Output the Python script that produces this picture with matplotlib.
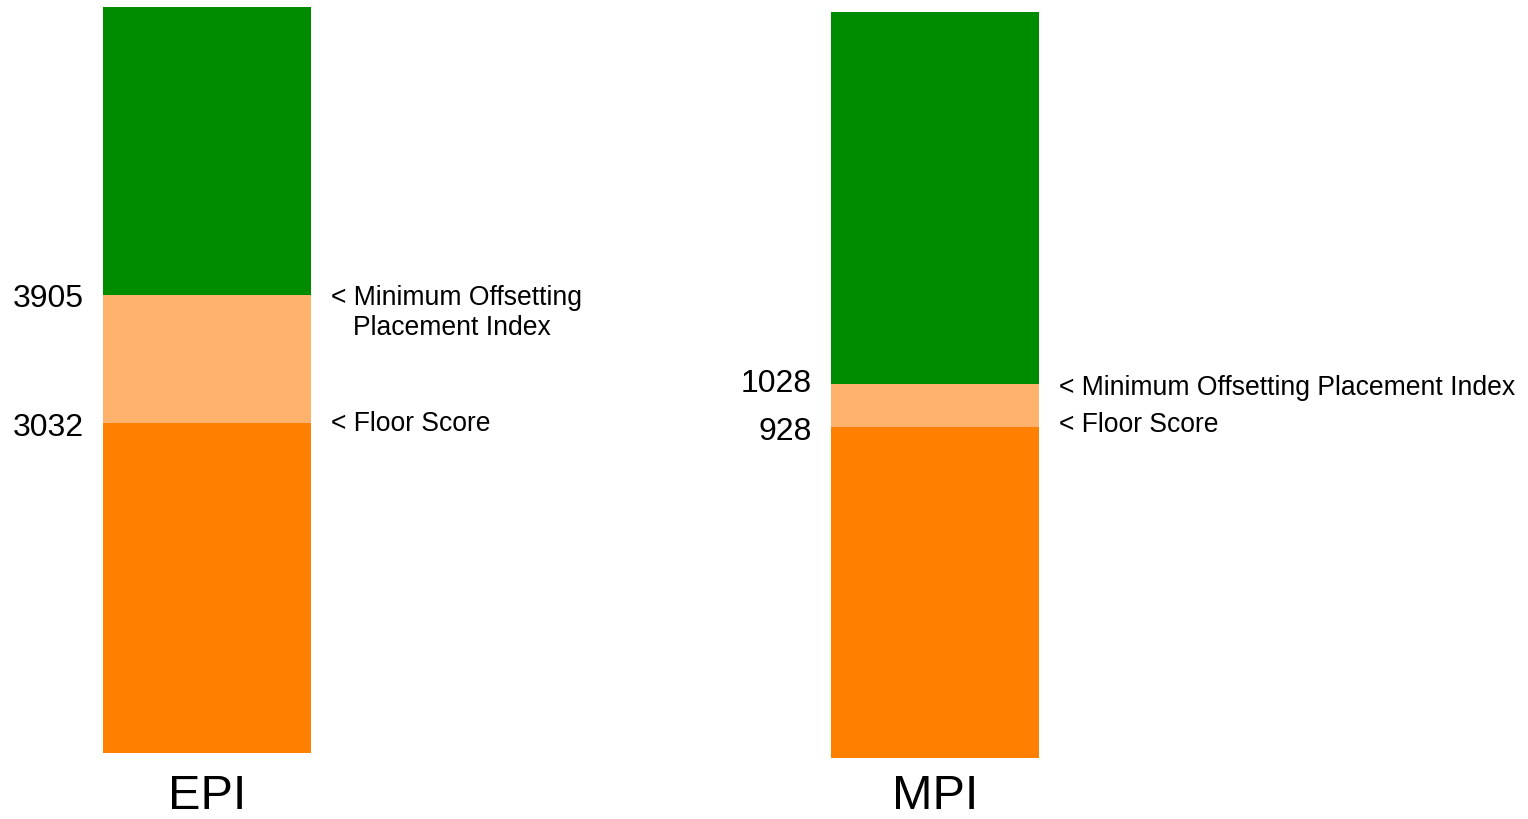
"""Floor score vs minimum offsetting placement index, EPI and MPI."""

import matplotlib
matplotlib.use("Agg")
import matplotlib.pyplot as plt

plt.rcParams["font.family"] = ["Liberation Sans", "DejaVu Sans"]

indices = ["EPI", "MPI"]
floor_scores = [3032, 928]
min_offset_index = [3905, 1028]
# the bars are schematic: these are the ends implied by each bar's drawn scale
bar_bottom = [781, 158]
bar_top = [5869, 1893]

floor_label = "< Floor Score"
mopi_label = ["< Minimum Offsetting\n   Placement Index", "< Minimum Offsetting Placement Index"]

COL_LOW = "#FF7F00"
COL_MID = "#FFB26B"
COL_HIGH = "#008C00"

W, H, DPI = 1528, 820, 100
fig = plt.figure(figsize=(W / DPI, H / DPI), dpi=DPI)

# axes boxes in pixels: left, top, right, bottom
boxes = [(103, 8, 311, 754), (831, 13, 1039, 759)]
# per-label vertical nudges (pixels, positive = down) for the value labels
num_nudge = [(12, 11), (12, 7)]
txt_nudge = [(7, 9), (4, 10)]
NAME_BASELINE = 809  # pixel row of the index names' baseline

for i, name in enumerate(indices):
    l, t, r, b = boxes[i]
    ax = fig.add_axes([l / W, (H - b) / H, (r - l) / W, (b - t) / H])
    lo, fl, mo, hi = bar_bottom[i], floor_scores[i], min_offset_index[i], bar_top[i]
    ax.bar(0, fl - lo, bottom=lo, width=1, color=COL_LOW)
    ax.bar(0, mo - fl, bottom=fl, width=1, color=COL_MID)
    ax.bar(0, hi - mo, bottom=mo, width=1, color=COL_HIGH)
    ax.set_xlim(-0.5, 0.5)
    ax.set_ylim(lo, hi)
    ax.axis("off")

    # value labels left of the bar
    for val, dy in zip((fl, mo), num_nudge[i]):
        ax.annotate(str(val), xy=(-0.5, val), xytext=(-19, -dy),
                    textcoords="offset pixels", ha="right", va="baseline",
                    fontsize=23, annotation_clip=False)

    # descriptions right of the bar
    ax.annotate(floor_label, xy=(0.5, fl), xytext=(20, -txt_nudge[i][0]),
                textcoords="offset pixels", ha="left", va="baseline",
                fontsize=19.1, annotation_clip=False)
    first, *rest = mopi_label[i].split("\n")
    ax.annotate(first, xy=(0.5, mo), xytext=(20, -txt_nudge[i][1]),
                textcoords="offset pixels", ha="left", va="baseline",
                fontsize=19.1, annotation_clip=False)
    for k, line in enumerate(rest):
        ax.annotate(line.strip(), xy=(0.5, mo), xytext=(42, -txt_nudge[i][1] - 30 * (k + 1)),
                    textcoords="offset pixels", ha="left", va="baseline",
                    fontsize=19.1, annotation_clip=False)

    # index name under the bar
    ax.annotate(name, xy=(0, lo), xytext=(0, -(NAME_BASELINE - b)), textcoords="offset pixels",
                ha="center", va="baseline", fontsize=35, annotation_clip=False)

fig.savefig("out.png", dpi=DPI)
